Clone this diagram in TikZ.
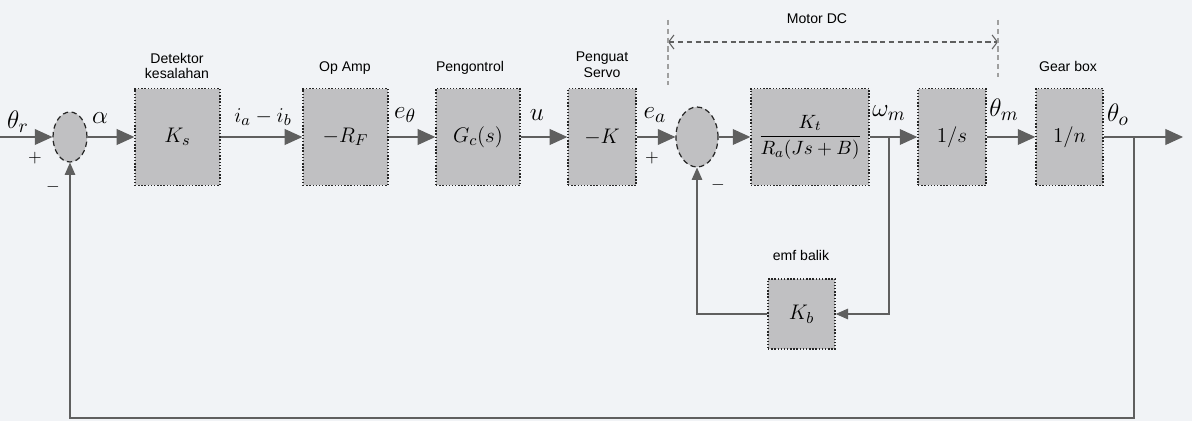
\documentclass[tikz,border=0pt]{standalone}
\usepackage{amsmath}
\usepackage{fontspec}
\newfontfamily\capfont{Liberation Sans}
\usetikzlibrary{shapes.geometric}
\usetikzlibrary{positioning}
\usetikzlibrary{arrows.meta}
\definecolor{paper}{RGB}{241,243,246}
\definecolor{boxgray}{RGB}{192,192,194}
\definecolor{wire}{RGB}{95,95,95}

\begin{document}
\begin{tikzpicture}[x=0.02cm, y=-0.02cm,
  block/.style={draw=black!85, densely dotted, line width=0.8pt, fill=boxgray,
                inner sep=0pt, minimum height=1.94cm, font=\fontsize{13}{15}\selectfont},
  summer/.style={ellipse, draw=black!85, densely dashed, line width=0.7pt,
                 fill=boxgray, inner sep=0pt},
  wireline/.style={draw=wire, line width=0.6pt},
  sig/.style={wireline, -{Triangle[length=10pt,width=9pt]}},
  sigsmall/.style={wireline, -{Triangle[length=7pt,width=6pt]}},
  lbl/.style={font=\fontsize{15}{18}\selectfont, inner sep=1pt},
  pm/.style={font=\fontsize{10}{12}\selectfont, inner sep=1pt},
  ket/.style={font=\capfont\fontsize{8}{9}\selectfont, align=center, inner sep=1pt}]

\def\yM{137}

\useasboundingbox (0,0) rectangle (1192,421);
\fill[paper] (0,0) rectangle (1192,421);

%---------------------------------------
% Blocks on the main path
%---------------------------------------
\node[summer, minimum width=0.68cm, minimum height=1.0cm] (sumA) at (70,\yM) {};
\node[block, minimum width=1.7cm] (Ks) at (177.5,\yM) {$K_s$};
\node[block, minimum width=1.7cm] (RF) at (345.5,\yM) {$-R_F$};
\node[block, minimum width=1.68cm] (Gc) at (478,\yM) {$G_c(s)$};
\node[block, minimum width=1.36cm, font=\fontsize{12}{14}\selectfont] (Kamp) at (602,\yM) {$-K$};
\node[summer, minimum width=0.84cm, minimum height=1.2cm] (sumB) at (697,\yM) {};
\node[block, minimum width=2.36cm, font=\fontsize{11}{13}\selectfont] (Kt) at (810,\yM)
      {$\dfrac{K_t}{R_a(Js+B)}$};
\node[block, minimum width=1.36cm, font=\fontsize{12}{14}\selectfont] (integ) at (952,\yM) {$1/s$};
\node[block, minimum width=1.34cm, font=\fontsize{12}{14}\selectfont] (gear) at (1069.5,\yM) {$1/n$};

% back emf block
\node[block, minimum width=1.34cm, minimum height=1.4cm] (Kb) at (801.5,314) {$K_b$};

%---------------------------------------
% Captions
%---------------------------------------
\node[ket] (capKs) at (177,66) {Detektor\\kesalahan};
\node[ket] (capRF) at (345,68) {Op Amp};
\node[ket] (capGc) at (470,68) {Pengontrol};
\node[ket] (capK)  at (602,65) {Penguat\\Servo};
\node[ket] (capM)  at (817,19) {Motor DC};
\node[ket] (capG)  at (1068,66) {Gear box};
\node[ket] (capKb) at (801,255) {emf balik};

%---------------------------------------
% Signals
%---------------------------------------
\coordinate (in)  at (0,\yM);
\coordinate (out) at (1183,\yM);
\coordinate (wm)  at (889,\yM);
\coordinate (to)  at (1134,\yM);
\coordinate (bot) at (1134,418);

\draw[sig] (in) -- (sumA.west);
\draw[sig] (sumA.east) -- (Ks.west);
\draw[sig] (Ks.east) -- (RF.west);
\draw[sig] (RF.east) -- (Gc.west);
\draw[sig] (Gc.east) -- (Kamp.west);
\draw[sig] (Kamp.east) -- (sumB.west);
\draw[sig] (sumB.east) -- (Kt.west);
\draw[sig] (Kt.east) -- (integ.west);
\draw[sig] (integ.east) -- (gear.west);
\draw[sig] (gear.east) -- (out);

% feedback loops
\draw[sigsmall] (to) -- (bot) -| (sumA.south);
\draw[sigsmall] (wm) |- (Kb.east);
\draw[sigsmall] (Kb.west) -| (sumB.south);

% Motor DC span
\coordinate (mL)  at (668,42);
\coordinate (mR)  at (998,42);
\coordinate (mLt) at (668,20);
\coordinate (mLb) at (668,85);
\coordinate (mRt) at (998,20);
\coordinate (mRb) at (998,77);
\draw[wireline, densely dashed, {Straight Barb[length=3pt,width=8pt]}-{Straight Barb[length=3pt,width=8pt]}] (mL) -- (mR);
\draw[wireline, draw=wire!60, densely dashed] (mLt) -- (mLb);
\draw[wireline, draw=wire!60, densely dashed] (mRt) -- (mRb);

%---------------------------------------
% Signal names
%---------------------------------------
\node[lbl] (thr) at (18,122) {$\theta_r$};
\node[pm]  (plusA) at (35,158) {$+$};
\node[pm]  (minA) at (53,187) {$-$};
\node[lbl] (alf) at (100,118) {$\alpha$};
\node[lbl, font=\fontsize{13}{15}\selectfont] (iab) at (263,117) {$i_a-i_b$};
\node[lbl] (eth) at (405,115) {$e_\theta$};
\node[lbl] (uu)  at (537,115) {$u$};
\node[lbl] (ea)  at (655,115) {$e_a$};
\node[pm]  (plusB) at (652,158) {$+$};
\node[pm]  (minB) at (718,185) {$-$};
\node[lbl] (wml) at (889,113) {$\omega_m$};
\node[lbl] (thm) at (1004,110) {$\theta_m$};
\node[lbl] (tho) at (1118,115) {$\theta_o$};

\end{tikzpicture}
\end{document}
